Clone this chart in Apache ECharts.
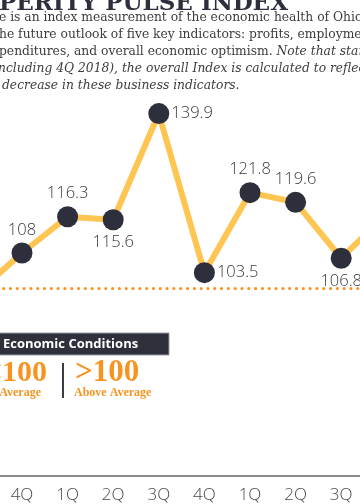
<!DOCTYPE html>
<html>
<head>
<meta charset="utf-8">
<script src="https://cdn.jsdelivr.net/npm/echarts@6/dist/echarts.min.js"></script>
<style>
  html, body { margin: 0; padding: 0; background: #ffffff; }
  #chart { width: 360px; height: 504px; }
</style>
</head>
<body>
<div id="chart"></div>
<script>
// ---- data ----
var quarters = ['3Q', '4Q', '1Q', '2Q', '3Q', '4Q', '1Q', '2Q', '3Q', '4Q'];
var indexValues = [98.7, 108, 116.3, 115.6, 139.9, 103.5, 121.8, 119.6, 106.8, 117];
var labelSides = [null, 'top', 'top', 'bottom', 'right', 'right', 'top', 'top', 'bottom', null];
var averageLine = 100;
var headingText = 'OHIO PROSPERITY PULSE INDEX';
var paragraphLines = [
  'e is an index measurement of the economic health of Ohio economy',
  'he future outlook of five key indicators: profits, employment,',
  'penditures, and overall economic optimism. {i|Note that starting}',
  '{i|ncluding 4Q 2018), the overall Index is calculated to reflect an increase}',
  '{i|decrease in these business indicators.}'
];
var legendTitle = 'Economic Conditions';
var legendLow = ['<100', 'Below Average'];
var legendHigh = ['>100', 'Above Average'];

// ---- chart ----
var chart = echarts.init(document.getElementById('chart'), null, { renderer: 'canvas' });

var seriesData = indexValues.map(function (v, i) {
  var item = { value: v };
  if (labelSides[i]) {
    item.label = { show: true, position: labelSides[i], distance: labelSides[i] === 'right' ? 2 : 4 };
  } else {
    item.label = { show: false };
  }
  return item;
});

var paraStartX = [-1, -1, -1, -2, 2];
var paraFont = '12.3px "DejaVu Serif"';
var paraGraphics = paragraphLines.map(function (t, i) {
  return {
    type: 'text',
    style: {
      text: t,
      x: paraStartX[i],
      y: 18 + i * 17,
      align: 'left',
      verticalAlign: 'middle',
      font: paraFont,
      fill: '#3d3d3d',
      rich: { i: { font: 'italic ' + paraFont, fill: '#3d3d3d' } }
    },
    z: 10
  };
});

var option = {
  backgroundColor: '#ffffff',
  animation: false,
  grid: {
    left: -23.6, right: -26.8, top: 100, bottom: 28,
    containLabel: false,
    outerBoundsMode: 'none'
  },
  xAxis: {
    type: 'category',
    data: quarters,
    boundaryGap: false,
    axisLine: { show: true, lineStyle: { color: '#8a8a8a', width: 2 } },
    axisTick: { show: false },
    axisLabel: {
      interval: 0,
      margin: 11,
      fontFamily: '"Open Sans"',
      fontWeight: 300,
      fontSize: 17,
      color: '#4a4a4a'
    },
    splitLine: { show: false }
  },
  yAxis: {
    type: 'value',
    min: 57,
    max: 143,
    show: false,
    splitLine: { show: false }
  },
  series: [{
    type: 'line',
    data: seriesData,
    symbol: 'circle',
    symbolSize: 21,
    lineStyle: { color: '#FFC553', width: 6 },
    itemStyle: { color: '#2D303C' },
    label: {
      show: true,
      fontFamily: '"Open Sans"',
      fontWeight: 300,
      fontSize: 16.5,
      color: '#383838'
    },
    markLine: {
      silent: true,
      symbol: ['none', 'none'],
      label: { show: false },
      lineStyle: { color: '#F7931E', width: 3.2, type: [0.01, 6.8], cap: 'round' },
      data: [{ yAxis: averageLine }],
      z: 1
    },
    z: 5
  }],
  graphic: [
    {
      type: 'text',
      style: {
        text: headingText,
        x: 288,
        y: 4,
        align: 'right',
        verticalAlign: 'middle',
        font: 'bold 23px "DejaVu Serif"',
        fill: '#2D303C'
      },
      z: 10
    }
  ].concat(paraGraphics).concat([
    {
      type: 'rect',
      shape: { x: -2, y: 333, width: 171, height: 22 },
      style: { fill: '#2E303B', stroke: '#9a9ca2', lineWidth: 1 },
      z: 10
    },
    {
      type: 'text',
      style: {
        text: legendTitle,
        x: 3,
        y: 344,
        align: 'left',
        verticalAlign: 'middle',
        font: 'bold 13px "Open Sans"',
        fill: '#ffffff'
      },
      z: 11
    },
    {
      type: 'text',
      style: {
        text: legendLow[0],
        x: 47,
        y: 373,
        align: 'right',
        verticalAlign: 'middle',
        font: 'bold 30px "Liberation Serif"',
        fill: '#F7931E'
      },
      z: 11
    },
    {
      type: 'text',
      style: {
        text: legendLow[1],
        x: 41,
        y: 393,
        align: 'right',
        verticalAlign: 'middle',
        font: 'bold 12px "Liberation Serif"',
        fill: '#F7931E'
      },
      z: 11
    },
    {
      type: 'line',
      shape: { x1: 63, y1: 363, x2: 63, y2: 398 },
      style: { stroke: '#3a3c46', lineWidth: 2 },
      z: 11
    },
    {
      type: 'text',
      style: {
        text: legendHigh[0],
        x: 75,
        y: 373,
        align: 'left',
        verticalAlign: 'middle',
        font: 'bold 31px "Liberation Serif"',
        fill: '#F7931E'
      },
      z: 11
    },
    {
      type: 'text',
      style: {
        text: legendHigh[1],
        x: 74,
        y: 393,
        align: 'left',
        verticalAlign: 'middle',
        font: 'bold 12px "Liberation Serif"',
        fill: '#F7931E'
      },
      z: 11
    }
  ])
};

chart.setOption(option);
</script>
</body>
</html>
